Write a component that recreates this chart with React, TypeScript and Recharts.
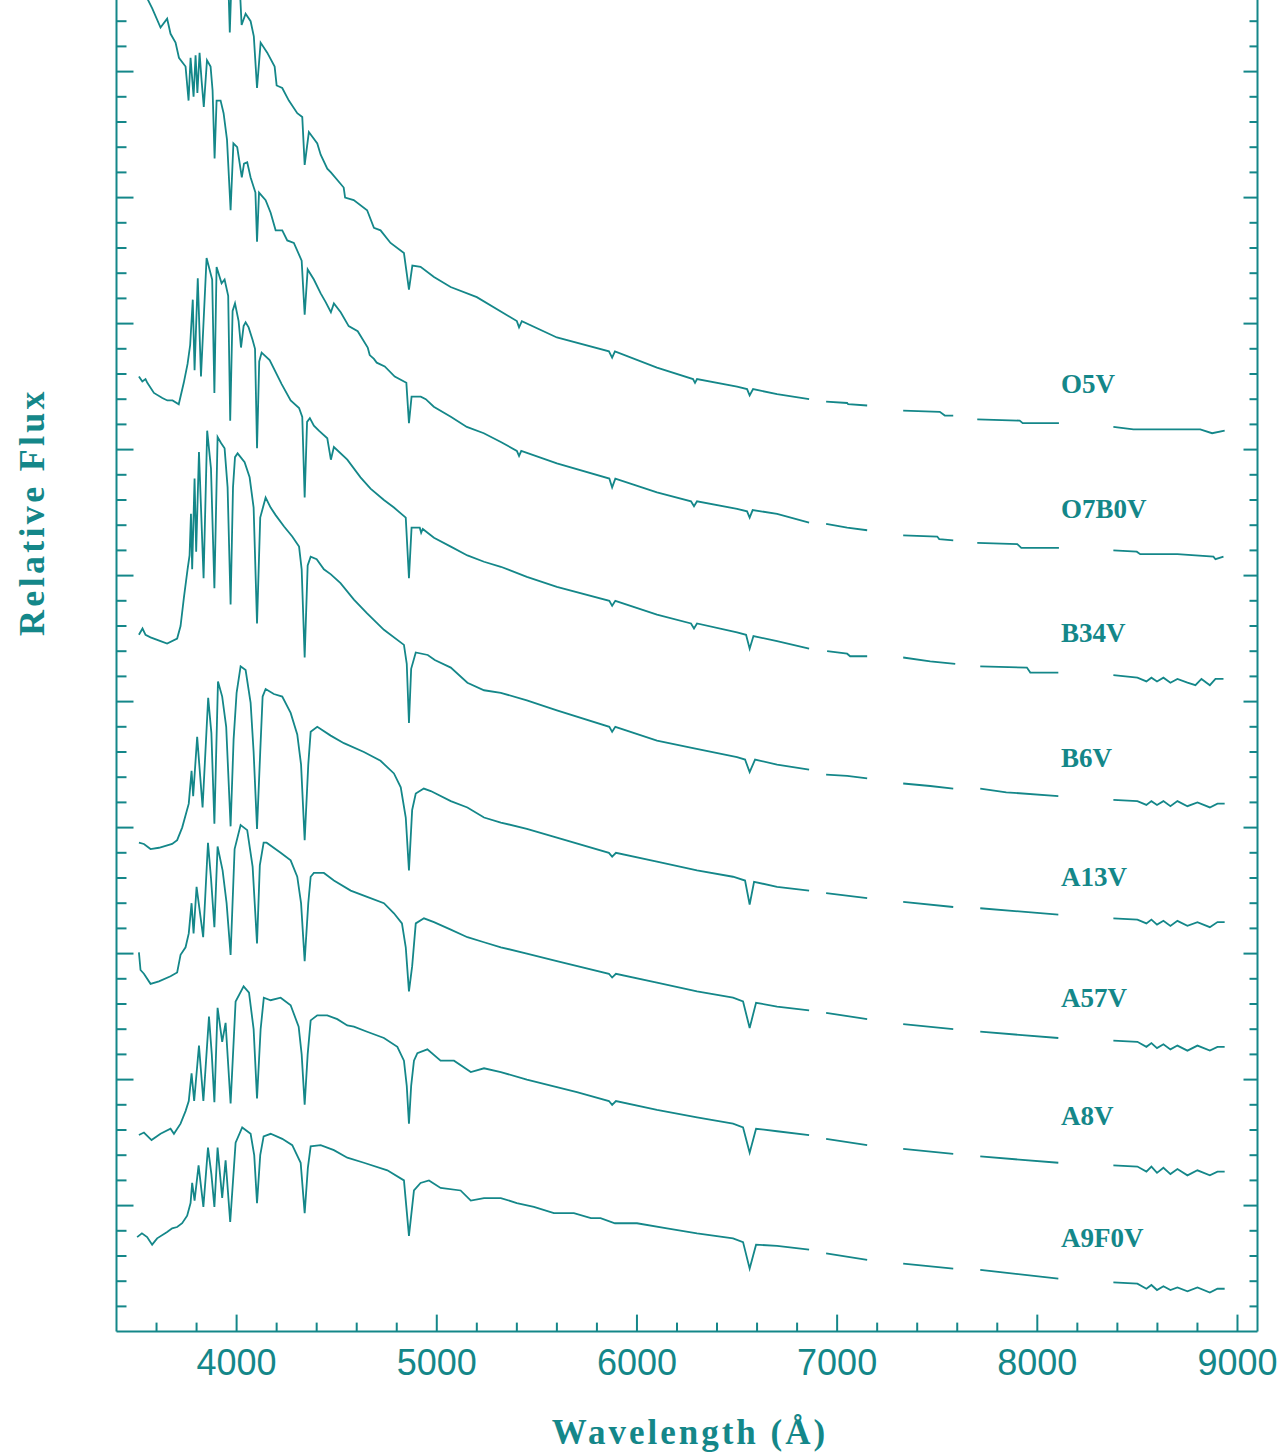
import React from "react";
import { LineChart, Line, XAxis, YAxis, ReferenceDot } from "recharts";

type Row = [number, number | null];

const TEAL = "#148789";

// wavelength ticks (Å)
const xMajorTicks = [4000, 5000, 6000, 7000, 8000, 9000];
const xMinorTicks = [
  3600, 3800, 4200, 4400, 4600, 4800, 5200, 5400, 5600, 5800, 6200, 6400, 6600, 6800,
  7200, 7400, 7600, 7800, 8200, 8400, 8600, 8800,
];

const seriesNames = ["O5V", "O7B0V", "B34V", "B6V", "A13V", "A57V", "A8V", "A9F0V"];
const labelFlux = [7.45, 6.46, 5.47, 4.48, 3.54, 2.58, 1.64, 0.67];
const labelWave = 8118;

// [wavelength, relative flux], null = gap
const o5v: Row[] = [
  [3880, 11.2], [3955, 10.9], [3966, 10.31], [3978, 10.9], [4015, 10.7], [4025, 10.37],
  [4045, 10.46], [4070, 10.4], [4086, 10.28], [4102, 9.87], [4120, 10.23], [4153, 10.15],
  [4190, 10.04], [4200, 9.89], [4228, 9.87], [4261, 9.77], [4303, 9.67], [4328, 9.64],
  [4340, 9.26], [4361, 9.52], [4403, 9.43], [4420, 9.34], [4453, 9.23], [4471, 9.2],
  [4535, 9.08], [4542, 9.0], [4585, 8.98], [4652, 8.9], [4686, 8.76], [4719, 8.74],
  [4769, 8.64], [4836, 8.56], [4861, 8.27], [4878, 8.46], [4919, 8.45], [4986, 8.37],
  [5069, 8.29], [5200, 8.21], [5400, 8.02], [5411, 7.97], [5425, 8.02], [5600, 7.89],
  [5860, 7.78], [5876, 7.73], [5890, 7.78], [6100, 7.65], [6280, 7.56], [6290, 7.53],
  [6300, 7.56], [6500, 7.5], [6550, 7.48], [6563, 7.43], [6580, 7.48], [6700, 7.44],
  [6860, 7.4], [6900, null], [6945, 7.38], [7050, 7.37], [7055, 7.36], [7150, 7.35],
  [7240, null], [7330, 7.31], [7513, 7.3], [7538, 7.27], [7580, 7.27], [7640, null],
  [7700, 7.24], [7912, 7.23], [7927, 7.21], [8108, 7.21], [8240, null], [8380, 7.18],
  [8480, 7.16], [8814, 7.16], [8873, 7.13], [8936, 7.15],
];

const o7b0v: Row[] = [
  [3500, 10.75], [3579, 10.5], [3620, 10.35], [3653, 10.42], [3670, 10.3], [3695, 10.23],
  [3712, 10.11], [3745, 10.04], [3760, 9.77], [3770, 10.11], [3785, 9.8], [3795, 10.13],
  [3804, 9.83], [3815, 10.15], [3825, 9.93], [3836, 9.72], [3852, 10.09], [3870, 10.04],
  [3880, 9.85], [3890, 9.31], [3900, 9.77], [3920, 9.77], [3935, 9.67], [3952, 9.46],
  [3970, 8.9], [3984, 9.43], [4003, 9.4], [4026, 9.16], [4037, 9.27], [4053, 9.28],
  [4070, 9.16], [4094, 9.04], [4102, 8.65], [4112, 9.04], [4145, 8.98], [4170, 8.88],
  [4195, 8.74], [4228, 8.74], [4253, 8.66], [4286, 8.64], [4325, 8.5], [4340, 8.07],
  [4355, 8.43], [4386, 8.35], [4420, 8.24], [4445, 8.17], [4471, 8.09], [4486, 8.16],
  [4520, 8.09], [4560, 7.98], [4605, 7.94], [4655, 7.81], [4665, 7.75], [4686, 7.72],
  [4700, 7.69], [4740, 7.66], [4790, 7.58], [4848, 7.53], [4861, 7.21], [4874, 7.42],
  [4920, 7.42], [4945, 7.4], [4985, 7.34], [5070, 7.26], [5150, 7.18], [5235, 7.13],
  [5320, 7.06], [5400, 6.99], [5411, 6.95], [5422, 6.99], [5600, 6.89], [5862, 6.77],
  [5876, 6.7], [5892, 6.77], [6100, 6.66], [6270, 6.59], [6285, 6.55], [6300, 6.59],
  [6500, 6.53], [6550, 6.51], [6563, 6.46], [6578, 6.52], [6700, 6.49], [6860, 6.42],
  [6900, null], [6945, 6.41], [7050, 6.38], [7150, 6.36], [7240, null], [7330, 6.32],
  [7500, 6.31], [7510, 6.29], [7580, 6.28], [7640, null], [7700, 6.26], [7900, 6.25],
  [7920, 6.22], [8108, 6.22], [8240, null], [8380, 6.2], [8497, 6.19], [8514, 6.17],
  [8700, 6.17], [8880, 6.15], [8890, 6.13], [8930, 6.15],
];

const b34v: Row[] = [
  [3512, 7.58], [3529, 7.54], [3545, 7.56], [3554, 7.53], [3587, 7.45], [3629, 7.41],
  [3654, 7.39], [3680, 7.39], [3711, 7.36], [3736, 7.53], [3755, 7.68], [3768, 7.83],
  [3781, 8.19], [3790, 7.63], [3806, 8.36], [3822, 7.58], [3850, 8.52], [3878, 8.35],
  [3889, 7.45], [3900, 8.45], [3925, 8.32], [3940, 8.35], [3958, 8.22], [3968, 7.23],
  [3980, 8.1], [3992, 8.16], [4010, 8.02], [4022, 7.81], [4035, 7.98], [4045, 8.01],
  [4060, 7.97], [4080, 7.87], [4092, 7.8], [4102, 7.01], [4113, 7.7], [4125, 7.77],
  [4165, 7.71], [4225, 7.52], [4270, 7.39], [4312, 7.33], [4328, 7.26], [4340, 6.62],
  [4352, 7.22], [4366, 7.25], [4386, 7.19], [4411, 7.15], [4453, 7.09], [4471, 6.92],
  [4486, 7.02], [4553, 6.92], [4619, 6.78], [4669, 6.69], [4736, 6.6], [4786, 6.54],
  [4845, 6.46], [4861, 5.98], [4874, 6.38], [4915, 6.38], [4922, 6.34], [4930, 6.37],
  [4986, 6.3], [5070, 6.23], [5153, 6.16], [5236, 6.11], [5320, 6.07], [5450, 5.99],
  [5600, 5.91], [5862, 5.8], [5876, 5.76], [5892, 5.8], [6100, 5.69], [6270, 5.62],
  [6285, 5.58], [6300, 5.62], [6500, 5.55], [6545, 5.53], [6563, 5.42], [6582, 5.52],
  [6700, 5.48], [6860, 5.42], [6900, null], [6950, 5.4], [7050, 5.38], [7065, 5.36],
  [7150, 5.36], [7240, null], [7330, 5.35], [7465, 5.32], [7590, 5.3], [7640, null],
  [7715, 5.28], [7948, 5.27], [7965, 5.23], [8105, 5.23], [8240, null], [8380, 5.21],
  [8500, 5.19], [8545, 5.16], [8570, 5.19], [8598, 5.16], [8630, 5.19], [8665, 5.15],
  [8700, 5.18], [8750, 5.15], [8790, 5.13], [8820, 5.18], [8862, 5.13], [8890, 5.18],
  [8930, 5.18],
];

const b6v: Row[] = [
  [3512, 5.53], [3530, 5.58], [3545, 5.53], [3570, 5.51], [3620, 5.48], [3653, 5.46],
  [3703, 5.5], [3720, 5.6], [3737, 5.83], [3755, 6.05], [3765, 6.16], [3772, 6.49],
  [3778, 6.05], [3790, 6.77], [3798, 6.19], [3812, 6.98], [3835, 5.98], [3853, 7.15],
  [3872, 6.85], [3889, 5.9], [3905, 7.1], [3923, 7.05], [3940, 7.01], [3955, 6.7],
  [3970, 5.77], [3982, 6.7], [3992, 6.94], [4005, 6.97], [4040, 6.9], [4065, 6.78],
  [4085, 6.54], [4102, 5.62], [4118, 6.46], [4145, 6.62], [4170, 6.54], [4195, 6.48],
  [4237, 6.39], [4278, 6.31], [4312, 6.23], [4325, 6.05], [4340, 5.35], [4355, 6.08],
  [4370, 6.15], [4400, 6.13], [4436, 6.05], [4471, 6.01], [4519, 5.94], [4586, 5.81],
  [4652, 5.7], [4736, 5.57], [4836, 5.45], [4850, 5.3], [4861, 4.83], [4872, 5.26],
  [4895, 5.39], [4955, 5.37], [4990, 5.33], [5070, 5.27], [5153, 5.15], [5236, 5.09],
  [5320, 5.07], [5450, 5.01], [5600, 4.93], [5862, 4.8], [5876, 4.76], [5892, 4.8],
  [6100, 4.69], [6280, 4.63], [6500, 4.56], [6540, 4.54], [6563, 4.44], [6590, 4.54],
  [6700, 4.5], [6860, 4.46], [6900, null], [6945, 4.42], [7050, 4.41], [7150, 4.39],
  [7240, null], [7330, 4.35], [7465, 4.33], [7580, 4.31], [7640, null], [7715, 4.31],
  [7845, 4.28], [8105, 4.25], [8240, null], [8380, 4.22], [8500, 4.21], [8545, 4.18],
  [8570, 4.21], [8598, 4.18], [8630, 4.21], [8665, 4.17], [8700, 4.21], [8750, 4.17],
  [8800, 4.2], [8862, 4.16], [8900, 4.19], [8936, 4.19],
];

const a13v: Row[] = [
  [3512, 3.88], [3537, 3.87], [3570, 3.83], [3612, 3.84], [3678, 3.87], [3703, 3.9],
  [3728, 4.0], [3761, 4.19], [3775, 4.45], [3783, 4.25], [3803, 4.72], [3830, 4.16],
  [3858, 5.03], [3874, 4.75], [3889, 4.03], [3907, 5.16], [3928, 5.04], [3948, 4.8],
  [3970, 4.01], [3985, 4.7], [4000, 5.07], [4020, 5.28], [4045, 5.25], [4070, 4.99],
  [4085, 4.6], [4102, 3.99], [4118, 4.6], [4130, 5.04], [4145, 5.1], [4186, 5.06],
  [4228, 5.04], [4270, 4.91], [4303, 4.74], [4322, 4.5], [4340, 3.9], [4358, 4.5],
  [4370, 4.76], [4403, 4.8], [4470, 4.73], [4536, 4.67], [4636, 4.6], [4719, 4.53],
  [4786, 4.43], [4820, 4.32], [4845, 4.08], [4861, 3.66], [4877, 4.14], [4895, 4.27],
  [4935, 4.31], [4970, 4.29], [5070, 4.21], [5153, 4.16], [5236, 4.08], [5320, 4.04],
  [5450, 3.99], [5600, 3.92], [5860, 3.8], [5876, 3.77], [5895, 3.8], [6100, 3.73],
  [6300, 3.66], [6480, 3.61], [6540, 3.58], [6563, 3.39], [6585, 3.57], [6700, 3.53],
  [6860, 3.5], [6900, null], [6945, 3.48], [7150, 3.44], [7240, null], [7330, 3.41],
  [7580, 3.37], [7640, null], [7715, 3.36], [8105, 3.31], [8240, null], [8380, 3.28],
  [8500, 3.27], [8545, 3.24], [8570, 3.27], [8598, 3.23], [8630, 3.26], [8665, 3.22],
  [8700, 3.26], [8750, 3.22], [8800, 3.25], [8862, 3.21], [8900, 3.25], [8936, 3.25],
];

const a57v: Row[] = [
  [3512, 3.01], [3520, 2.87], [3537, 2.84], [3570, 2.76], [3612, 2.78], [3670, 2.82],
  [3703, 2.85], [3720, 2.99], [3745, 3.05], [3761, 3.16], [3775, 3.4], [3785, 3.16],
  [3800, 3.53], [3833, 3.13], [3857, 3.88], [3872, 3.6], [3889, 3.21], [3905, 3.85],
  [3930, 3.66], [3950, 3.4], [3970, 2.99], [3990, 3.83], [4020, 4.02], [4053, 3.98],
  [4080, 3.69], [4102, 3.08], [4116, 3.7], [4135, 3.88], [4150, 3.88], [4220, 3.8],
  [4270, 3.74], [4303, 3.61], [4322, 3.4], [4340, 2.94], [4358, 3.4], [4370, 3.61],
  [4386, 3.64], [4436, 3.64], [4486, 3.58], [4570, 3.5], [4652, 3.45], [4736, 3.4],
  [4786, 3.32], [4826, 3.24], [4845, 3.05], [4861, 2.7], [4877, 2.9], [4895, 3.24],
  [4936, 3.28], [4986, 3.25], [5070, 3.19], [5153, 3.13], [5236, 3.09], [5320, 3.05],
  [5450, 3.0], [5600, 2.94], [5860, 2.84], [5876, 2.81], [5895, 2.84], [6100, 2.77],
  [6300, 2.7], [6480, 2.65], [6530, 2.62], [6563, 2.41], [6595, 2.61], [6700, 2.58],
  [6860, 2.55], [6900, null], [6945, 2.53], [7150, 2.48], [7240, null], [7330, 2.44],
  [7580, 2.4], [7640, null], [7715, 2.38], [8105, 2.33], [8240, null], [8380, 2.31],
  [8500, 2.3], [8545, 2.26], [8570, 2.29], [8598, 2.25], [8630, 2.28], [8665, 2.24],
  [8700, 2.27], [8750, 2.23], [8800, 2.27], [8862, 2.23], [8900, 2.26], [8936, 2.26],
];

const a8v: Row[] = [
  [3512, 1.56], [3537, 1.58], [3575, 1.52], [3620, 1.57], [3670, 1.61], [3687, 1.57],
  [3720, 1.65], [3745, 1.75], [3761, 1.83], [3775, 2.05], [3788, 1.83], [3812, 2.27],
  [3834, 1.83], [3862, 2.5], [3876, 2.2], [3889, 1.82], [3905, 2.57], [3928, 2.3],
  [3945, 2.45], [3970, 1.81], [3995, 2.62], [4035, 2.74], [4062, 2.69], [4085, 2.4],
  [4102, 1.85], [4120, 2.4], [4136, 2.65], [4170, 2.63], [4220, 2.65], [4270, 2.59],
  [4310, 2.42], [4325, 2.2], [4340, 1.8], [4355, 2.2], [4370, 2.47], [4403, 2.51],
  [4453, 2.51], [4503, 2.48], [4553, 2.43], [4586, 2.42], [4652, 2.38], [4736, 2.33],
  [4803, 2.26], [4836, 2.15], [4850, 1.95], [4861, 1.65], [4872, 1.95], [4886, 2.15],
  [4903, 2.21], [4953, 2.24], [5019, 2.15], [5086, 2.15], [5170, 2.06], [5236, 2.09],
  [5320, 2.06], [5450, 2.0], [5600, 1.94], [5700, 1.9], [5860, 1.83], [5876, 1.8],
  [5895, 1.83], [6100, 1.76], [6300, 1.7], [6480, 1.65], [6530, 1.62], [6563, 1.42],
  [6595, 1.61], [6700, 1.59], [6860, 1.56], [6900, null], [6945, 1.53], [7150, 1.48],
  [7240, null], [7330, 1.45], [7580, 1.41], [7640, null], [7715, 1.39], [8105, 1.34],
  [8240, null], [8380, 1.32], [8500, 1.31], [8545, 1.27], [8570, 1.31], [8598, 1.26],
  [8630, 1.3], [8665, 1.25], [8700, 1.29], [8750, 1.24], [8800, 1.28], [8862, 1.24],
  [8900, 1.27], [8936, 1.27],
];

const a9f0v: Row[] = [
  [3503, 0.75], [3527, 0.78], [3553, 0.75], [3578, 0.69], [3603, 0.74], [3653, 0.79],
  [3678, 0.82], [3703, 0.83], [3728, 0.86], [3753, 0.92], [3770, 1.02], [3778, 1.18],
  [3790, 1.04], [3810, 1.32], [3834, 0.99], [3857, 1.46], [3874, 1.25], [3889, 0.99],
  [3905, 1.46], [3928, 1.06], [3945, 1.36], [3968, 0.87], [3995, 1.5], [4028, 1.62],
  [4070, 1.57], [4088, 1.4], [4102, 1.02], [4118, 1.4], [4135, 1.55], [4170, 1.57],
  [4228, 1.53], [4278, 1.48], [4320, 1.34], [4340, 0.94], [4356, 1.3], [4370, 1.47],
  [4420, 1.48], [4486, 1.44], [4553, 1.38], [4636, 1.34], [4753, 1.28], [4836, 1.2],
  [4861, 0.76], [4886, 1.12], [4919, 1.18], [4961, 1.2], [5019, 1.14], [5119, 1.12],
  [5170, 1.04], [5236, 1.06], [5320, 1.06], [5400, 1.02], [5485, 0.99], [5585, 0.94],
  [5685, 0.94], [5770, 0.9], [5818, 0.9], [5890, 0.86], [6000, 0.86], [6150, 0.82],
  [6300, 0.78], [6480, 0.74], [6530, 0.71], [6563, 0.5], [6595, 0.69], [6700, 0.68],
  [6860, 0.65], [6900, null], [6945, 0.62], [7150, 0.57], [7240, null], [7330, 0.54],
  [7580, 0.5], [7640, null], [7715, 0.49], [8105, 0.42], [8240, null], [8380, 0.39],
  [8500, 0.38], [8545, 0.34], [8570, 0.37], [8598, 0.33], [8630, 0.36], [8665, 0.33],
  [8700, 0.35], [8750, 0.32], [8800, 0.35], [8862, 0.31], [8900, 0.34], [8936, 0.34],
];

const spectra = [o5v, o7b0v, b34v, b6v, a13v, a57v, a8v, a9f0v];

const toPoints = (rows: Row[]) => rows.map(([x, y]) => ({ x, y }));

const xTicks = [...xMajorTicks, ...xMinorTicks].sort((a, b) => a - b);
// major flux ticks at whole units, minor every 0.2
const yTicks = Array.from({ length: 52 }, (_, i) => Math.round((i + 1) * 2) / 10);

const isMajorY = (v: number) => Math.abs(v - Math.round(v)) < 1e-6;

const XTick = (props: any) => {
  const { x, y, payload } = props;
  const major = xMajorTicks.includes(payload.value);
  return (
    <g>
      <line x1={x} y1={y} x2={x} y2={y - (major ? 17 : 9)} stroke={TEAL} strokeWidth={2} />
      {major && (
        <text
          x={x}
          y={y + 43.5}
          textAnchor="middle"
          fontFamily="'Liberation Sans', Arial, sans-serif"
          fontSize={36}
          fill={TEAL}
        >
          {payload.value}
        </text>
      )}
    </g>
  );
};

const YTickLeft = (props: any) => {
  const { x, y, payload } = props;
  const len = isMajorY(payload.value) ? 17 : 10;
  return <line x1={x} y1={y} x2={x + len} y2={y} stroke={TEAL} strokeWidth={2} />;
};

const YTickRight = (props: any) => {
  const { x, y, payload } = props;
  const len = isMajorY(payload.value) ? 14 : 8;
  return <line x1={x} y1={y} x2={x - len} y2={y} stroke={TEAL} strokeWidth={2} />;
};

const titleFont = "'Liberation Serif', 'DejaVu Serif', serif";

const XTitle = () => (
  <text
    x={690}
    y={1448}
    textAnchor="middle"
    fontFamily={titleFont}
    fontWeight="bold"
    fontSize={35}
    letterSpacing={3}
    fill={TEAL}
  >
    Wavelength (Å)
  </text>
);

const YTitle = () => (
  <text
    x={44}
    y={516}
    transform="rotate(-90, 44, 516)"
    textAnchor="middle"
    fontFamily={titleFont}
    fontWeight="bold"
    fontSize={36}
    letterSpacing={3.3}
    fill={TEAL}
  >
    Relative Flux
  </text>
);

export default function App() {
  return (
    <div style={{ position: "absolute", left: 0, top: -4, width: 1287, height: 1460 }}>
      <LineChart width={1287} height={1460} margin={{ top: 0, right: 0, bottom: 84.4, left: 16.5 }}>
        <XAxis
          type="number"
          dataKey="x"
          domain={[3400, 9100]}
          ticks={xTicks}
          interval={0}
          tickSize={0}
          tickMargin={0}
          tickLine={false}
          tick={XTick}
          axisLine={{ stroke: TEAL, strokeWidth: 2 }}
          height={40}
          allowDataOverflow
          label={XTitle}
        />
        <YAxis
          type="number"
          domain={[0, 10.6]}
          ticks={yTicks}
          interval={0}
          tickSize={0}
          tickMargin={0}
          tickLine={false}
          tick={YTickLeft}
          axisLine={{ stroke: TEAL, strokeWidth: 2 }}
          width={100}
          allowDataOverflow
          label={YTitle}
        />
        <YAxis
          yAxisId="right"
          orientation="right"
          type="number"
          domain={[0, 10.6]}
          ticks={yTicks}
          interval={0}
          tickSize={0}
          tickMargin={0}
          tickLine={false}
          tick={YTickRight}
          axisLine={{ stroke: TEAL, strokeWidth: 2 }}
          width={29.5}
          allowDataOverflow
        />
        {spectra.map((rows, i) => (
          <Line
            key={seriesNames[i]}
            data={toPoints(rows)}
            dataKey="y"
            type="linear"
            stroke={TEAL}
            strokeWidth={1.8}
            dot={false}
            activeDot={false}
            connectNulls={false}
            isAnimationActive={false}
          />
        ))}
        {seriesNames.map((name, i) => (
          <ReferenceDot
            key={`lbl-${name}`}
            x={labelWave}
            y={labelFlux[i]}
            r={0}
            shape={(p: any) => (
              <text
                x={p.cx}
                y={p.cy}
                fontFamily={titleFont}
                fontWeight="bold"
                fontSize={27}
                fill={TEAL}
              >
                {name}
              </text>
            )}
          />
        ))}
      </LineChart>
    </div>
  );
}
